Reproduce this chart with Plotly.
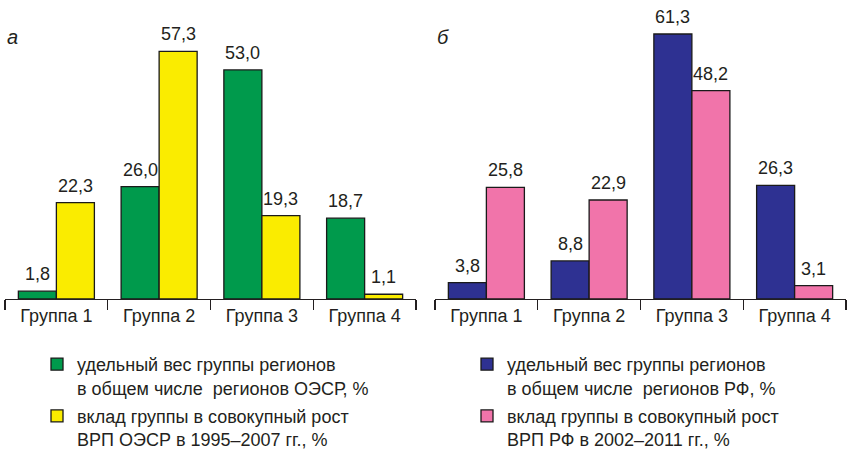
import plotly.graph_objects as go

groups = ["Группа 1", "Группа 2", "Группа 3", "Группа 4"]

oecd_share = [1.8, 26.0, 53.0, 18.7]
oecd_growth = [22.3, 57.3, 19.3, 1.1]
rf_share = [3.8, 8.8, 61.3, 26.3]
rf_growth = [25.8, 22.9, 48.2, 3.1]

name_oecd_share = "удельный вес группы регионов<br>в общем числе  регионов ОЭСР, %"
name_oecd_growth = "вклад группы в совокупный рост<br>ВРП ОЭСР в 1995–2007 гг., %"
name_rf_share = "удельный вес группы регионов<br>в общем числе  регионов РФ, %"
name_rf_growth = "вклад группы в совокупный рост<br>ВРП РФ в 2002–2011 гг., %"

panel_labels = ["а", "б"]

FONT = "Liberation Sans, Arial, sans-serif"
TXT = "#231F20"
W, H = 852, 450
BARGAP = 0.26
DOM1 = [5 / W, 416 / W]
DOM2 = [435 / W, 846 / W]


def fmt(v):
    return f"{v:.1f}".replace(".", ",")


def bar(vals, name, color, xa, ya, leg, grp):
    return go.Bar(
        x=groups, y=vals, name=name,
        marker=dict(color=color, line=dict(color="#1a1a1a", width=1.3)),
        xaxis=xa, yaxis=ya, legend=leg, legendgroup=grp,
        hoverinfo="skip",
    )


fig = go.Figure()
fig.add_trace(bar(oecd_share, name_oecd_share, "#009A4C", "x", "y", "legend", "a1"))
fig.add_trace(bar(oecd_growth, name_oecd_growth, "#FAEC00", "x", "y", "legend", "a2"))
fig.add_trace(bar(rf_share, name_rf_share, "#2E3192", "x2", "y2", "legend2", "b1"))
fig.add_trace(bar(rf_growth, name_rf_growth, "#F174AA", "x2", "y2", "legend2", "b2"))

# value labels as annotations placed on the data scale
annotations = []
for dom, xr, yr, series in [
    (DOM1, "x", "y", [oecd_share, oecd_growth]),
    (DOM2, "x2", "y2", [rf_share, rf_growth]),
]:
    cat_px = (dom[1] - dom[0]) * W / len(groups)
    bar_px = cat_px * (1 - BARGAP) / len(series)
    for k, vals in enumerate(series):
        shift = (k - (len(series) - 1) / 2) * bar_px
        for g, v in zip(groups, vals):
            annotations.append(dict(
                x=g, y=v, xref=xr, yref=yr, text=fmt(v), showarrow=False,
                xanchor="center", yanchor="bottom", xshift=shift, yshift=5,
                font=dict(size=18, color=TXT, family=FONT),
            ))

for lbl, dom in zip(panel_labels, [DOM1, DOM2]):
    annotations.append(dict(
        text=lbl, x=dom[0], y=0.931, xref="paper", yref="paper",
        xanchor="left", yanchor="middle", showarrow=False,
        font=dict(size=20, color=TXT, family=FONT, style="italic"),
    ))

xcommon = dict(
    type="category", showline=True, linecolor=TXT, linewidth=1.3,
    ticks="outside", ticklen=10, tickwidth=1.3, tickcolor=TXT,
    tickson="boundaries", showgrid=False, zeroline=False,
    tickfont=dict(size=18, color=TXT, family=FONT), fixedrange=True,
)
ycommon = dict(range=[0, 65], visible=False, fixedrange=True)

legcommon = dict(
    orientation="v", yanchor="top", xanchor="left", valign="top",
    font=dict(size=18, color=TXT, family=FONT), tracegroupgap=2,
    bgcolor="rgba(0,0,0,0)",
)

fig.update_layout(
    width=W, height=H,
    margin=dict(l=0, r=0, t=18, b=151, autoexpand=False),
    paper_bgcolor="white", plot_bgcolor="white",
    barmode="group", bargap=BARGAP, bargroupgap=0,
    font=dict(family=FONT, color=TXT, size=18),
    xaxis=dict(domain=DOM1, anchor="y", **xcommon),
    xaxis2=dict(domain=DOM2, anchor="y2", **xcommon),
    yaxis=dict(anchor="x", **ycommon),
    yaxis2=dict(anchor="x2", **ycommon),
    legend=dict(x=37 / W, y=-0.167, **legcommon),
    legend2=dict(x=467 / W, y=-0.167, **legcommon),
    showlegend=True,
    annotations=annotations,
)

fig.write_html(
    "out.html",
    config={"displayModeBar": False, "staticPlot": True},
    post_script="document.body.style.margin='0';document.body.style.overflow='hidden';",
)
